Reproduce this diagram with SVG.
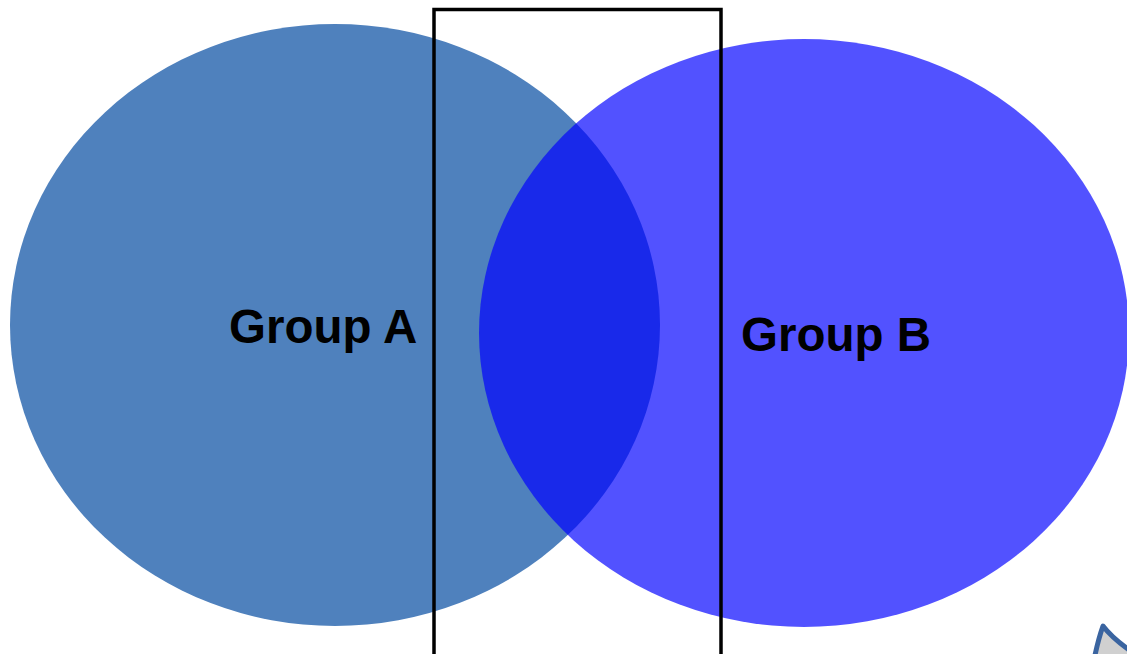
<svg xmlns="http://www.w3.org/2000/svg" width="1127" height="654" viewBox="0 0 1127 654">
<style>
.lbl{font-family:"Liberation Sans",Arial,sans-serif;font-weight:bold;font-size:47.5px;fill:#000}
</style>
<rect width="1127" height="654" fill="#fff"/>
<g id="groupA">
<ellipse cx="335" cy="325" rx="325" ry="301" fill="#4F81BD"/>
<text class="lbl" x="229" y="343">Group A</text>
</g>
<g id="groupB">
<ellipse cx="804" cy="333" rx="325" ry="294" fill="#0000FF" fill-opacity="0.68"/>
<text class="lbl" x="741" y="351">Group B</text>
</g>
<g id="box">
<rect x="434" y="9.5" width="287" height="660" fill="none" stroke="#000" stroke-width="3.5"/>
</g>
<g id="corner">
<path d="M1094 660 Q1098 640 1103 626 Q1112 638 1132 652 L1132 660 Z" fill="#D0D0D0" stroke="#3A64A0" stroke-width="5" stroke-linejoin="round"/>
</g>
</svg>
